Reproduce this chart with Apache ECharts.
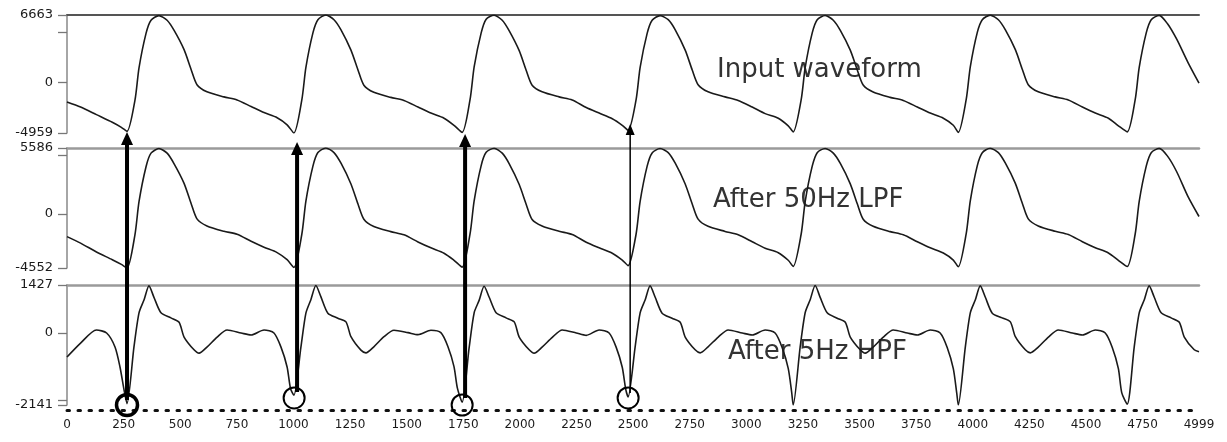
<!DOCTYPE html>
<html><head><meta charset="utf-8">
<script src="https://cdn.jsdelivr.net/npm/echarts@6/dist/echarts.min.js"></script>
<style>html,body{margin:0;padding:0;background:#fff}#c{width:1227px;height:442px}</style>
</head><body><div id="c"></div>
<script>
const xTickLabels = [0,250,500,750,1000,1250,1500,1750,2000,2250,2500,2750,3000,3250,3500,3750,4000,4250,4500,4750,4999];
const panelTitles = ['Input waveform','After 50Hz LPF','After 5Hz HPF'];
const inputRange = [-4959, 6663];
const lpfRange = [-4552, 5586];
const hpfRange = [-2141, 1427];
const inputTicks = [-4959, 0, 5000, 6663];
const lpfTicks = [-4552, 0, 5000, 5586];
const hpfTicks = [-2141, -2000, 0, 1427];

const inputWave = [
[0,-1900],[60,-2400],[130,-3150],[200,-3900],[240,-4400],
[265,-4800],[300,-1750],[318,1450],[349,4850],[371,6150],[406,6600],[442,6150],[473,5150],[517,3250],[548,1300],[574,-200],[618,-900],[693,-1400],[751,-1700],[813,-2350],[870,-2950],[928,-3450],[972,-4150],
[1002,-4959],[1037,-1700],[1055,1500],[1086,4900],[1108,6200],[1143,6663],[1179,6200],[1210,5200],[1254,3200],[1285,1250],[1311,-250],[1355,-950],[1430,-1450],[1488,-1750],[1550,-2400],[1607,-3000],[1665,-3500],[1709,-4200],
[1745,-4900],[1780,-1650],[1798,1550],[1829,4900],[1851,6250],[1886,6640],[1922,6150],[1953,5100],[1997,3150],[2028,1200],[2054,-250],[2098,-900],[2173,-1400],[2231,-1700],[2293,-2450],[2350,-3000],[2408,-3550],[2452,-4200],
[2478,-4700],[2513,-1700],[2531,1500],[2562,4850],[2584,6150],[2619,6600],[2655,6200],[2686,5200],[2730,3200],[2761,1250],[2787,-200],[2831,-900],[2906,-1400],[2964,-1750],[3026,-2400],[3083,-3050],[3141,-3500],[3185,-4250],
[3207,-4850],[3242,-1700],[3260,1500],[3291,4900],[3313,6200],[3348,6620],[3384,6150],[3415,5150],[3459,3200],[3490,1250],[3516,-230],[3560,-920],[3635,-1450],[3693,-1750],[3755,-2400],[3812,-3000],[3870,-3500],[3914,-4200],
[3936,-4900],[3971,-1650],[3989,1550],[4020,4950],[4042,6200],[4077,6650],[4113,6200],[4144,5200],[4188,3250],[4219,1300],[4245,-200],[4289,-900],[4364,-1400],[4422,-1700],[4484,-2400],[4541,-3000],[4599,-3500],[4643,-4250],
[4682,-4850],[4717,-1700],[4735,1500],[4766,4900],[4788,6200],[4823,6630],[4860,5800],[4900,4300],[4950,2000],[4999,-50]
];

const lpfWave = [
[0,-1900],[60,-2450],[130,-3200],[200,-3850],[240,-4250],
[265,-4552],[300,-1750],[318,1050],[349,4000],[371,5150],[406,5540],[442,5150],[473,4250],[517,2600],[548,900],[574,-400],[618,-1000],[693,-1450],[751,-1700],[813,-2300],[870,-2800],[928,-3250],[972,-3850],
[1002,-4500],[1037,-1700],[1055,1100],[1086,4050],[1108,5200],[1143,5586],[1179,5200],[1210,4300],[1254,2550],[1285,850],[1311,-430],[1355,-1050],[1430,-1480],[1488,-1750],[1550,-2350],[1607,-2850],[1665,-3300],[1709,-3900],
[1745,-4480],[1780,-1650],[1798,1120],[1829,4100],[1851,5220],[1886,5570],[1922,5150],[1953,4250],[1997,2500],[2028,820],[2054,-450],[2098,-1000],[2173,-1450],[2231,-1720],[2293,-2380],[2350,-2850],[2408,-3300],[2452,-3880],
[2478,-4350],[2513,-1700],[2531,1080],[2562,4050],[2584,5170],[2619,5540],[2655,5200],[2686,4300],[2730,2550],[2761,860],[2787,-420],[2831,-1030],[2906,-1460],[2964,-1750],[3026,-2330],[3083,-2880],[3141,-3260],[3185,-3900],
[3207,-4420],[3242,-1700],[3260,1080],[3291,4050],[3313,5190],[3348,5550],[3384,5150],[3415,4280],[3459,2560],[3490,870],[3516,-430],[3560,-1030],[3635,-1480],[3693,-1750],[3755,-2330],[3812,-2840],[3870,-3280],[3914,-3880],
[3936,-4450],[3971,-1650],[3989,1120],[4020,4100],[4042,5190],[4077,5570],[4113,5190],[4144,4300],[4188,2600],[4219,900],[4245,-400],[4289,-1000],[4364,-1450],[4422,-1720],[4484,-2330],[4541,-2840],[4599,-3280],[4643,-3900],
[4682,-4420],[4717,-1700],[4735,1080],[4766,4050],[4788,5190],[4823,5555],[4860,4900],[4900,3600],[4950,1500],[4999,-200]
];

const hpfWave = [
[0,-714],[60,-300],[130,89],[175,0],[212,-416],[234,-1010],[252,-1695],
[265,-2100],[296,-400],[318,600],[340,980],[362,1400],[384,1060],[415,600],[459,450],[495,320],[517,-120],[561,-500],[583,-600],[618,-420],[663,-120],[707,90],[769,0],[813,-60],[870,90],[914,0],[945,-420],[972,-1010],[987,-1650],
[1002,-1850],[1033,-420],[1055,590],[1077,990],[1099,1410],[1121,1080],[1152,590],[1196,440],[1232,330],[1254,-110],[1298,-510],[1320,-590],[1355,-410],[1400,-110],[1444,80],[1506,10],[1550,-50],[1607,80],[1651,10],[1682,-400],[1709,-1000],[1724,-1640],
[1745,-2060],[1776,-430],[1798,600],[1820,970],[1842,1390],[1864,1070],[1895,600],[1939,450],[1975,330],[1997,-120],[2041,-500],[2063,-600],[2098,-420],[2143,-130],[2187,90],[2249,0],[2293,-70],[2350,90],[2394,0],[2425,-420],[2452,-1020],[2467,-1660],
[2478,-1900],[2509,-410],[2531,600],[2553,980],[2575,1400],[2597,1070],[2628,590],[2672,440],[2708,320],[2730,-120],[2774,-500],[2796,-590],[2831,-410],[2876,-120],[2920,90],[2982,0],[3026,-60],[3083,90],[3127,0],[3158,-430],[3185,-1050],[3200,-1750],
[3207,-2141],[3238,-400],[3260,610],[3282,990],[3304,1410],[3326,1060],[3357,600],[3401,440],[3437,320],[3459,-120],[3503,-500],[3525,-600],[3560,-420],[3605,-120],[3649,90],[3711,0],[3755,-60],[3812,90],[3856,0],[3887,-430],[3914,-1060],[3929,-1780],
[3936,-2141],[3967,-420],[3989,600],[4011,980],[4033,1400],[4055,1070],[4086,590],[4130,450],[4166,330],[4188,-110],[4232,-500],[4254,-590],[4289,-420],[4334,-120],[4378,90],[4440,0],[4484,-60],[4541,90],[4585,0],[4616,-430],[4643,-1060],[4658,-1780],
[4682,-2120],[4713,-410],[4735,600],[4757,980],[4779,1400],[4801,1070],[4832,600],[4876,450],[4912,320],[4934,-120],[4978,-500],[4999,-560]
];

// annotation arrows: x sample, tail value on HPF panel, tip value on input panel
const arrowX = [265, 1016, 1758, 2487];
const arrowTailHpf = [-1992, -1754, -1932, -1784];
const arrowTipInput = [-4862, -5847, -5059, -4074];
// annotation circles on HPF panel
const circleX = [265, 1003, 1745, 2478];
const circleHpf = [-2141, -1932, -2141, -1932];

const LEFT = 67, RIGHT = 28;
const grids = [
  {left: LEFT, right: RIGHT, top: 15, height: 118},
  {left: LEFT, right: RIGHT, top: 148, height: 120},
  {left: LEFT, right: RIGHT, top: 285, height: 120}
];
const labelFont = {fontFamily: 'DejaVu Sans', fontSize: 12, color: '#1a1a1a'};
const plain = v => String(v);
function topAxis(gi, color, width) {
  return {type: 'value', gridIndex: gi, min: 0, max: 4999, position: 'top',
    axisLine: {show: true, onZero: false, lineStyle: {color: color, width: width}},
    axisTick: {show: false}, axisLabel: {show: false}, splitLine: {show: false}};
}
function yAxis(gi, range, ticks) {
  return {type: 'value', gridIndex: gi, min: range[0], max: range[1],
    axisLine: {show: true, onZero: false, lineStyle: {color: '#888', width: 1.5}},
    axisTick: {show: true, length: 9, customValues: ticks, lineStyle: {color: '#777', width: 1.3}},
    axisLabel: Object.assign({customValues: [range[0], 0, range[1]], margin: 14, formatter: plain}, labelFont, {fontSize: 13}),
    splitLine: {show: false}};
}
const lineStyle = {color: '#1a1a1a', width: 1.6};
const option = {
  animation: false,
  backgroundColor: '#fff',
  grid: grids,
  xAxis: [
    topAxis(0, '#555', 2),
    topAxis(1, '#9a9a9a', 2.5),
    topAxis(2, '#9a9a9a', 2.5),
    {type: 'value', gridIndex: 2, min: 0, max: 4999, position: 'bottom', offset: 5,
      axisLine: {show: true, onZero: false, lineStyle: {color: '#111', width: 3, type: [2.5, 8.5]}},
      axisTick: {show: false},
      axisLabel: Object.assign({customValues: xTickLabels, margin: 9, formatter: plain}, labelFont),
      splitLine: {show: false}}
  ],
  yAxis: [yAxis(0, inputRange, inputTicks), yAxis(1, lpfRange, lpfTicks), yAxis(2, hpfRange, hpfTicks)],
  series: [
    {type: 'line', xAxisIndex: 0, yAxisIndex: 0, data: inputWave, showSymbol: false, smooth: 0.25, lineStyle: lineStyle, z: 3},
    {type: 'line', xAxisIndex: 1, yAxisIndex: 1, data: lpfWave, showSymbol: false, smooth: 0.25, lineStyle: lineStyle, z: 3},
    {type: 'line', xAxisIndex: 3, yAxisIndex: 2, data: hpfWave, showSymbol: false, smooth: 0.25, lineStyle: lineStyle, z: 3}
  ]
};
const chart = echarts.init(document.getElementById('c'));
chart.setOption(option);

const g = [];
const titleLayout = [{x: 717, y: 70}, {x: 713, y: 200}, {x: 728, y: 352}];
panelTitles.forEach((t, i) => {
  g.push({type: 'text', x: titleLayout[i].x, y: titleLayout[i].y, z: 1,
    style: {text: t, fontFamily: 'DejaVu Sans', fontSize: 26, fill: '#333', verticalAlign: 'middle'}});
});
const arrowWidths = [4, 4, 4, 1.5];
const headLen = [13, 13, 13, 11];
const headW = [12, 12, 12, 9];
arrowX.forEach((x, i) => {
  const tail = chart.convertToPixel({seriesIndex: 2}, [x, arrowTailHpf[i]]);
  const tip = chart.convertToPixel({seriesIndex: 0}, [x, arrowTipInput[i]]);
  g.push({type: 'line', z: 10, shape: {x1: tail[0], y1: tail[1], x2: tip[0], y2: tip[1] + headLen[i] - 1},
    style: {stroke: '#000', lineWidth: arrowWidths[i]}});
  g.push({type: 'polygon', z: 10, shape: {points: [[tip[0], tip[1]], [tip[0] - headW[i] / 2, tip[1] + headLen[i]], [tip[0] + headW[i] / 2, tip[1] + headLen[i]]]},
    style: {fill: '#000'}});
});
const circleWidths = [3.5, 2, 2, 2];
circleX.forEach((x, i) => {
  const c = chart.convertToPixel({seriesIndex: 2}, [x, circleHpf[i]]);
  g.push({type: 'circle', z: 10, shape: {cx: c[0], cy: c[1], r: 10.5},
    style: {fill: 'none', stroke: '#000', lineWidth: circleWidths[i]}});
});
chart.setOption({graphic: g});
</script>
</body></html>
